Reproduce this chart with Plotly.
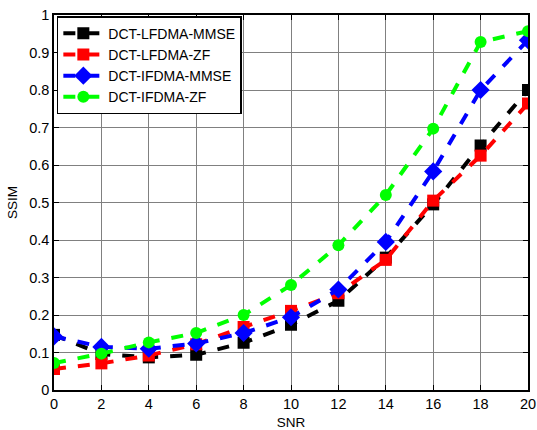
import plotly.graph_objects as go

snr = [0, 2, 4, 6, 8, 10, 12, 14, 16, 18, 20]
lfdma_mmse = [0.147, 0.096, 0.087, 0.094, 0.126, 0.174, 0.238, 0.353, 0.495, 0.652, 0.800]
lfdma_zf = [0.056, 0.071, 0.092, 0.122, 0.168, 0.211, 0.258, 0.347, 0.505, 0.625, 0.764]
ifdma_mmse = [0.143, 0.115, 0.110, 0.124, 0.152, 0.194, 0.268, 0.395, 0.583, 0.800, 0.933]
ifdma_zf = [0.072, 0.097, 0.127, 0.152, 0.200, 0.280, 0.386, 0.520, 0.697, 0.928, 0.957]

series = [
    ("DCT-LFDMA-MMSE", lfdma_mmse, "black", "square"),
    ("DCT-LFDMA-ZF", lfdma_zf, "red", "square"),
    ("DCT-IFDMA-MMSE", ifdma_mmse, "blue", "diamond"),
    ("DCT-IFDMA-ZF", ifdma_zf, "#00ff00", "circle"),
]

fig = go.Figure()
for name, vals, col, sym in series:
    fig.add_trace(go.Scatter(
        x=snr, y=vals, name=name, mode="lines+markers",
        line=dict(color=col, width=4, dash="dash"),
        marker=dict(symbol=sym, size=12 if sym != "diamond" else 14, color=col),
    ))

axis_common = dict(
    showline=True, linecolor="black", linewidth=1.5, mirror="ticks",
    ticks="inside", ticklen=5, tickcolor="black",
    showgrid=True, gridcolor="#808080", gridwidth=1,
    zeroline=False, automargin=False,
    tickfont=dict(family="Liberation Sans, Arial", size=14.5, color="black"),
)

fig.update_layout(
    width=537, height=430,
    margin=dict(l=54, r=9, t=15, b=40),
    paper_bgcolor="white", plot_bgcolor="white",
    font=dict(family="Liberation Sans, Arial", size=13, color="black"),
    xaxis=dict(range=[0, 20], tickmode="linear", tick0=0, dtick=2,
               title=dict(text="SNR", standoff=6, font=dict(size=13.5)), **axis_common),
    yaxis=dict(range=[0, 1], tickmode="linear", tick0=0, dtick=0.1,
               title=dict(text="SSIM", standoff=8, font=dict(size=13.5)), **axis_common),
    legend=dict(x=0.006, y=0.997, xanchor="left", yanchor="top",
                bgcolor="white", bordercolor="black", borderwidth=1.5,
                font=dict(size=14), itemwidth=40, tracegroupgap=0),
    showlegend=True,
)

fig.write_html("out.html")
